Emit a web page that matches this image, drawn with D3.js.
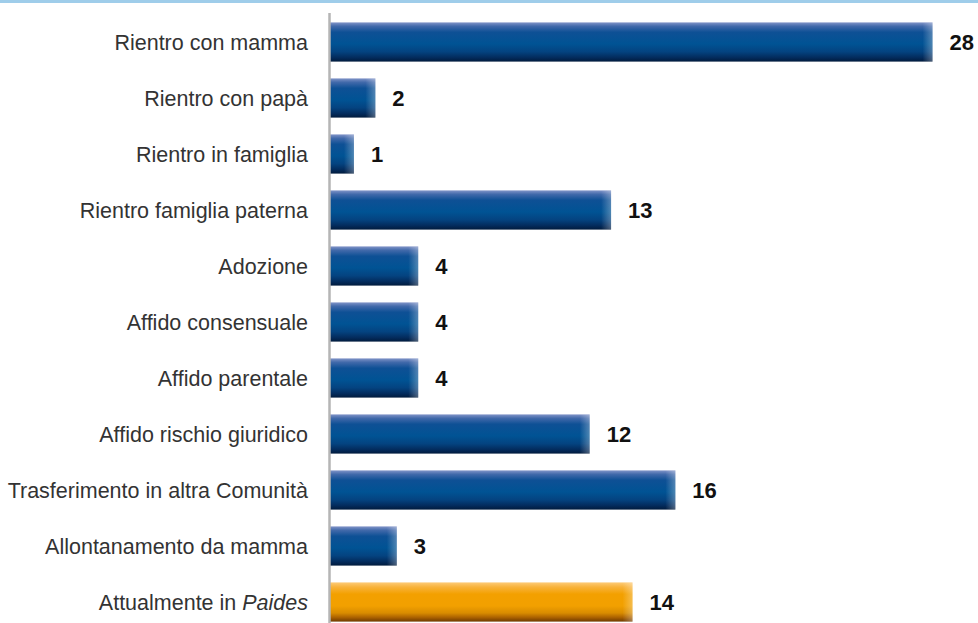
<!DOCTYPE html>
<html>
<head>
<meta charset="utf-8">
<script src="https://cdn.jsdelivr.net/npm/d3@7"></script>
<style>
  html, body { margin: 0; padding: 0; background: #fff; }
  svg { display: block; }
</style>
</head>
<body>
<svg id="chart" width="978" height="623"></svg>
<script>
const categories = [
  "Rientro con mamma",
  "Rientro con papà",
  "Rientro in famiglia",
  "Rientro famiglia paterna",
  "Adozione",
  "Affido consensuale",
  "Affido parentale",
  "Affido rischio giuridico",
  "Trasferimento in altra Comunità",
  "Allontanamento da mamma",
  "Attualmente in Paides"
];
const values = [28, 2, 1, 13, 4, 4, 4, 12, 16, 3, 14];
const highlighted = ["Attualmente in Paides"];

const svg = d3.select("#chart");
const W = 978, H = 623;
const FONT = "'Liberation Sans', Arial, Helvetica, sans-serif";

const x = d3.scaleLinear().domain([0, 28]).range([332.5, 932.5]);
const barStart = 330;
const y = d3.scaleBand().domain(categories).range([14, 630]).paddingInner(0.3).paddingOuter(0.15);

const defs = svg.append("defs");
function vGrad(id, stops) {
  const g = defs.append("linearGradient").attr("id", id)
    .attr("x1", 0).attr("y1", 0).attr("x2", 0).attr("y2", 1);
  stops.forEach(([o, c]) => g.append("stop").attr("offset", o).attr("stop-color", c));
}
vGrad("blueGrad", [
  [0, "#8194c8"], [0.1, "#4169aa"], [0.25, "#0e5095"], [0.55, "#005394"],
  [0.75, "#044380"], [0.9, "#032b5c"], [1, "#011b3d"]
]);
vGrad("orangeGrad", [
  [0, "#fdcb78"], [0.12, "#f8b23a"], [0.3, "#f3a000"], [0.6, "#f2a000"],
  [0.78, "#d98c00"], [0.9, "#a85f00"], [1, "#6e3a00"]
]);
const fade = defs.append("linearGradient").attr("id", "endFade")
  .attr("x1", 0).attr("y1", 0).attr("x2", 1).attr("y2", 0);
fade.append("stop").attr("offset", 0).attr("stop-color", "#fff").attr("stop-opacity", 0);
fade.append("stop").attr("offset", 1).attr("stop-color", "#fff").attr("stop-opacity", 0.3);

// top rule
svg.append("rect").attr("x", 0).attr("y", 0).attr("width", W).attr("height", 3).attr("fill", "#9fcdea");

// bars
const rows = svg.append("g").selectAll("g").data(categories).join("g");
rows.append("rect")
  .attr("x", barStart)
  .attr("y", d => y(d))
  .attr("width", (d, i) => x(values[i]) - barStart)
  .attr("height", y.bandwidth())
  .attr("fill", d => highlighted.includes(d) ? "url(#orangeGrad)" : "url(#blueGrad)");
rows.append("rect")
  .attr("x", (d, i) => x(values[i]) - 10)
  .attr("y", d => y(d))
  .attr("width", 10)
  .attr("height", y.bandwidth())
  .attr("fill", "url(#endFade)");

// value labels
rows.append("text")
  .attr("x", (d, i) => x(values[i]) + 17)
  .attr("y", d => y(d) + y.bandwidth() / 2)
  .attr("dy", "0.36em")
  .attr("font-family", FONT)
  .attr("font-size", 22)
  .attr("font-weight", "bold")
  .attr("fill", "#111")
  .text((d, i) => values[i]);

// category labels
const labels = svg.append("g").selectAll("text").data(categories).join("text")
  .attr("x", 308)
  .attr("y", d => y(d) + y.bandwidth() / 2)
  .attr("dy", "0.36em")
  .attr("text-anchor", "end")
  .attr("font-family", FONT)
  .attr("font-size", 21.5)
  .attr("fill", "#333");
labels.each(function(d) {
  const t = d3.select(this);
  if (d.endsWith("Paides")) {
    t.append("tspan").text(d.slice(0, d.length - 6));
    t.append("tspan").attr("font-style", "italic").text("Paides");
  } else {
    t.text(d);
  }
});

// axis line
svg.append("line")
  .attr("x1", 329.5).attr("x2", 329.5)
  .attr("y1", 13).attr("y2", H)
  .attr("stroke", "#b5b5b5").attr("stroke-width", 2.5);
</script>
</body>
</html>
